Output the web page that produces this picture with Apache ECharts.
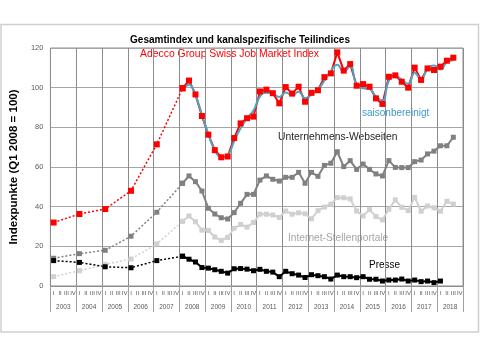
<!DOCTYPE html>
<html>
<head>
<meta charset="utf-8">
<script src="https://cdn.jsdelivr.net/npm/echarts@6/dist/echarts.min.js"></script>
<style>
html,body{margin:0;padding:0;background:#fff;}
#c{width:480px;height:355px;}
</style>
</head>
<body>
<div id="c"></div>
<script>
// ---- Data ----
const years = ['2003','2004','2005','2006','2007','2008','2009','2010','2011','2012','2013','2014','2015','2016','2017','2018'];
const quarters = ['I','II','III','IV'];
const yTicks = [0,20,40,60,80,100,120];

// Annual values (Q1 of 2003..2007), dotted part
const jobIndexAnnual   = [32, 36.3, 38.8, 48, 71.4];
const webAnnual        = [14, 16.3, 18, 25.1, 37.2];
const portalAnnual     = [4.7, 7.7, 10.9, 13.6, 21.2];
const presseAnnual     = [12.8, 11.9, 9.7, 9.2, 12.8];

// Quarterly values from 2008 Q1
const jobIndexQ = [99.7,103.6,96.6,85.7, 76.3,68.5,64.9,65.3, 74.6,82,84.6,85.4,
  98.1,99,97.2,92.1, 100.3,97,100.5,92.9, 97.4,98.7,105.3,107.2, 117.8,108.6,111.9,101,
  101.8,100.5,94.6,91.8, 105.5,106.2,103,100, 110.1,103.9,109.7,108.9, 110.6,113.6,115.1];
const saisonQ = [99,101.5,96,86.5, 76.5,68.5,65,66, 73,79.5,84.5,88.5,
  95.5,97.5,97,95.3, 97.6,96.3,98,94.8, 96.5,99,103.5,108.5, 111.5,108,110.8,101.3,
  99.7,99.3,95.5,93.5, 103.5,106,104,102, 107.5,104,109.8,111.2, 109.2,112.8,113.8];
const webQ = [51.8,55.5,52.6,47.9, 39.2,36.3,34.4,33.8, 37,41.7,46.2,46.2,
  53.4,55.5,53.8,52.9, 54.8,54.8,57.3,51.8, 57.3,55.3,60.8,61.9, 67.7,60.2,63.2,58.8,
  61.5,58.8,56.5,55.5, 63.2,59.8,59.7,59.7, 62.7,63.5,66.6,68, 70.7,70.7,75];
const portalQ = [32.6,35.3,32.4,28.2, 28,24.7,23,24.5, 29.1,31,29.7,32,
  36.2,36.2,35.8,34.6, 37.8,36.2,36.9,36.4, 33.9,38,39.8,41.2, 44.6,44.5,43.9,37.8,
  35.3,38.5,35,33.3, 38.7,43.4,39.7,38, 44.7,37.7,40.3,39.4, 37.7,42.7,41.3];
const presseQ = [15,13.5,12.1,9.3, 9,8.2,7.4,6.5, 8.7,8.8,8.5,7.7,
  8.4,7.4,7,4.7, 7.4,6.2,5.5,4.3, 5.7,5.2,4.7,3.5, 5.5,4.7,4.7,4.2,
  4.7,3.4,3.4,2.5, 3,3,3.5,2.5, 3,2.2,2.5,1.7, 2.5];

// ---- Build category data ----
const quarterCats = [];
years.forEach(() => quarters.forEach(q => quarterCats.push(q)));
const N = quarterCats.length;
const startQ = 20; // 2008 Q1 index

function dottedData(annual, quarterly) {
  const d = new Array(N).fill(null);
  annual.forEach((v, i) => { d[i * 4] = v; });
  d[startQ] = quarterly[0];
  return d;
}
function solidData(quarterly) {
  const d = new Array(N).fill(null);
  quarterly.forEach((v, i) => { d[startQ + i] = v; });
  return d;
}

const FONT = "'Liberation Sans', Arial, sans-serif";

function mkSeries(name, data, color, symSize, dotted, extra) {
  return Object.assign({
    name: name, type: 'line', xAxisIndex: 0, yAxisIndex: 0,
    data: data, connectNulls: dotted,
    symbol: 'rect', symbolSize: symSize,
    itemStyle: { color: color },
    lineStyle: { color: color, width: dotted ? 1.5 : 2, type: dotted ? [2, 2] : 'solid' },
    emphasis: { disabled: true }, animation: false
  }, extra || {});
}

const chart = echarts.init(document.getElementById('c'), null, { renderer: 'canvas' });
chart.setOption({
  backgroundColor: '#ffffff',
  animation: false,
  textStyle: { fontFamily: FONT },
  title: {
    text: 'Gesamtindex und kanalspezifische Teilindices',
    left: 'center', top: 30,
    textStyle: { fontFamily: FONT, fontSize: 10, fontWeight: 'bold', color: '#000' }
  },
  grid: { left: 34, top: 48, right: 17, bottom: 69, show: true, borderColor: '#8c8c8c', borderWidth: 1 },
  xAxis: [{
    type: 'category', data: quarterCats, position: 'bottom',
    axisLine: { show: true, lineStyle: { color: '#8c8c8c' } },
    axisTick: { show: false },
    axisLabel: { interval: 0, fontSize: 6, color: '#595959', margin: 4, fontFamily: FONT },
    splitLine: { show: true, interval: function (i) { return i % 4 === 0; }, lineStyle: { color: '#8c8c8c', width: 1 } }
  }, {
    type: 'category', data: years, position: 'bottom',
    axisLine: { show: false },
    axisTick: { show: true, length: 26, lineStyle: { color: '#a0a0a0' } },
    axisLabel: { fontSize: 6.5, color: '#595959', margin: 18, fontFamily: FONT },
    splitLine: { show: false }
  }],
  yAxis: {
    type: 'value', min: yTicks[0], max: yTicks[yTicks.length - 1], interval: 20,
    axisLine: { show: false }, axisTick: { show: false },
    axisLabel: { fontSize: 7.5, color: '#595959', margin: 7, fontFamily: FONT },
    splitLine: { lineStyle: { color: '#a6a6a6', width: 1 } },
    name: 'Indexpunkte (Q1 2008 = 100)', nameLocation: 'middle', nameRotate: 90, nameGap: 22,
    nameTextStyle: { fontSize: 11.5, fontWeight: 'bold', color: '#000', fontFamily: FONT }
  },
  series: [
    mkSeries('portalDot', dottedData(portalAnnual, portalQ), '#d0d0d0', 5, true),
    mkSeries('portal', solidData(portalQ), '#d0d0d0', 5, false),
    mkSeries('webDot', dottedData(webAnnual, webQ), '#808080', 5, true),
    mkSeries('web', solidData(webQ), '#808080', 5, false),
    mkSeries('presseDot', dottedData(presseAnnual, presseQ), '#000000', 5, true),
    mkSeries('presse', solidData(presseQ), '#000000', 5, false),
    mkSeries('jobDot', dottedData(jobIndexAnnual, jobIndexQ), '#ff0000', 6, true),
    mkSeries('job', solidData(jobIndexQ), '#ff0000', 6, false),
    mkSeries('saison', solidData(saisonQ), '#4aa6c4', 0, false, { smooth: true, symbol: 'none', lineStyle: { color: '#4aa6c4', width: 2 } })
  ],
  graphic: [
    { type: 'rect', shape: { x: 1, y: 24.5, width: 477.5, height: 307.5 }, style: { fill: 'none', stroke: '#cfcfcf', lineWidth: 1.5 }, silent: true, z: -10 },
    { type: 'text', left: 140, top: 49, style: { text: 'Adecco Group Swiss Job Market Index', fill: '#ff0000', font: '10.4px ' + FONT } },
    { type: 'text', left: 362, top: 108, style: { text: 'saisonbereinigt', fill: '#3d9acb', font: '10px ' + FONT } },
    { type: 'text', left: 278, top: 132, style: { text: 'Unternehmens-Webseiten', fill: '#262626', font: '10.3px ' + FONT } },
    { type: 'text', left: 288, top: 233, style: { text: 'Internet-Stellenportale', fill: '#a6a6a6', font: '10.2px ' + FONT } },
    { type: 'text', left: 369, top: 260, style: { text: 'Presse', fill: '#000000', font: '10px ' + FONT } }
  ]
});
</script>
</body>
</html>
